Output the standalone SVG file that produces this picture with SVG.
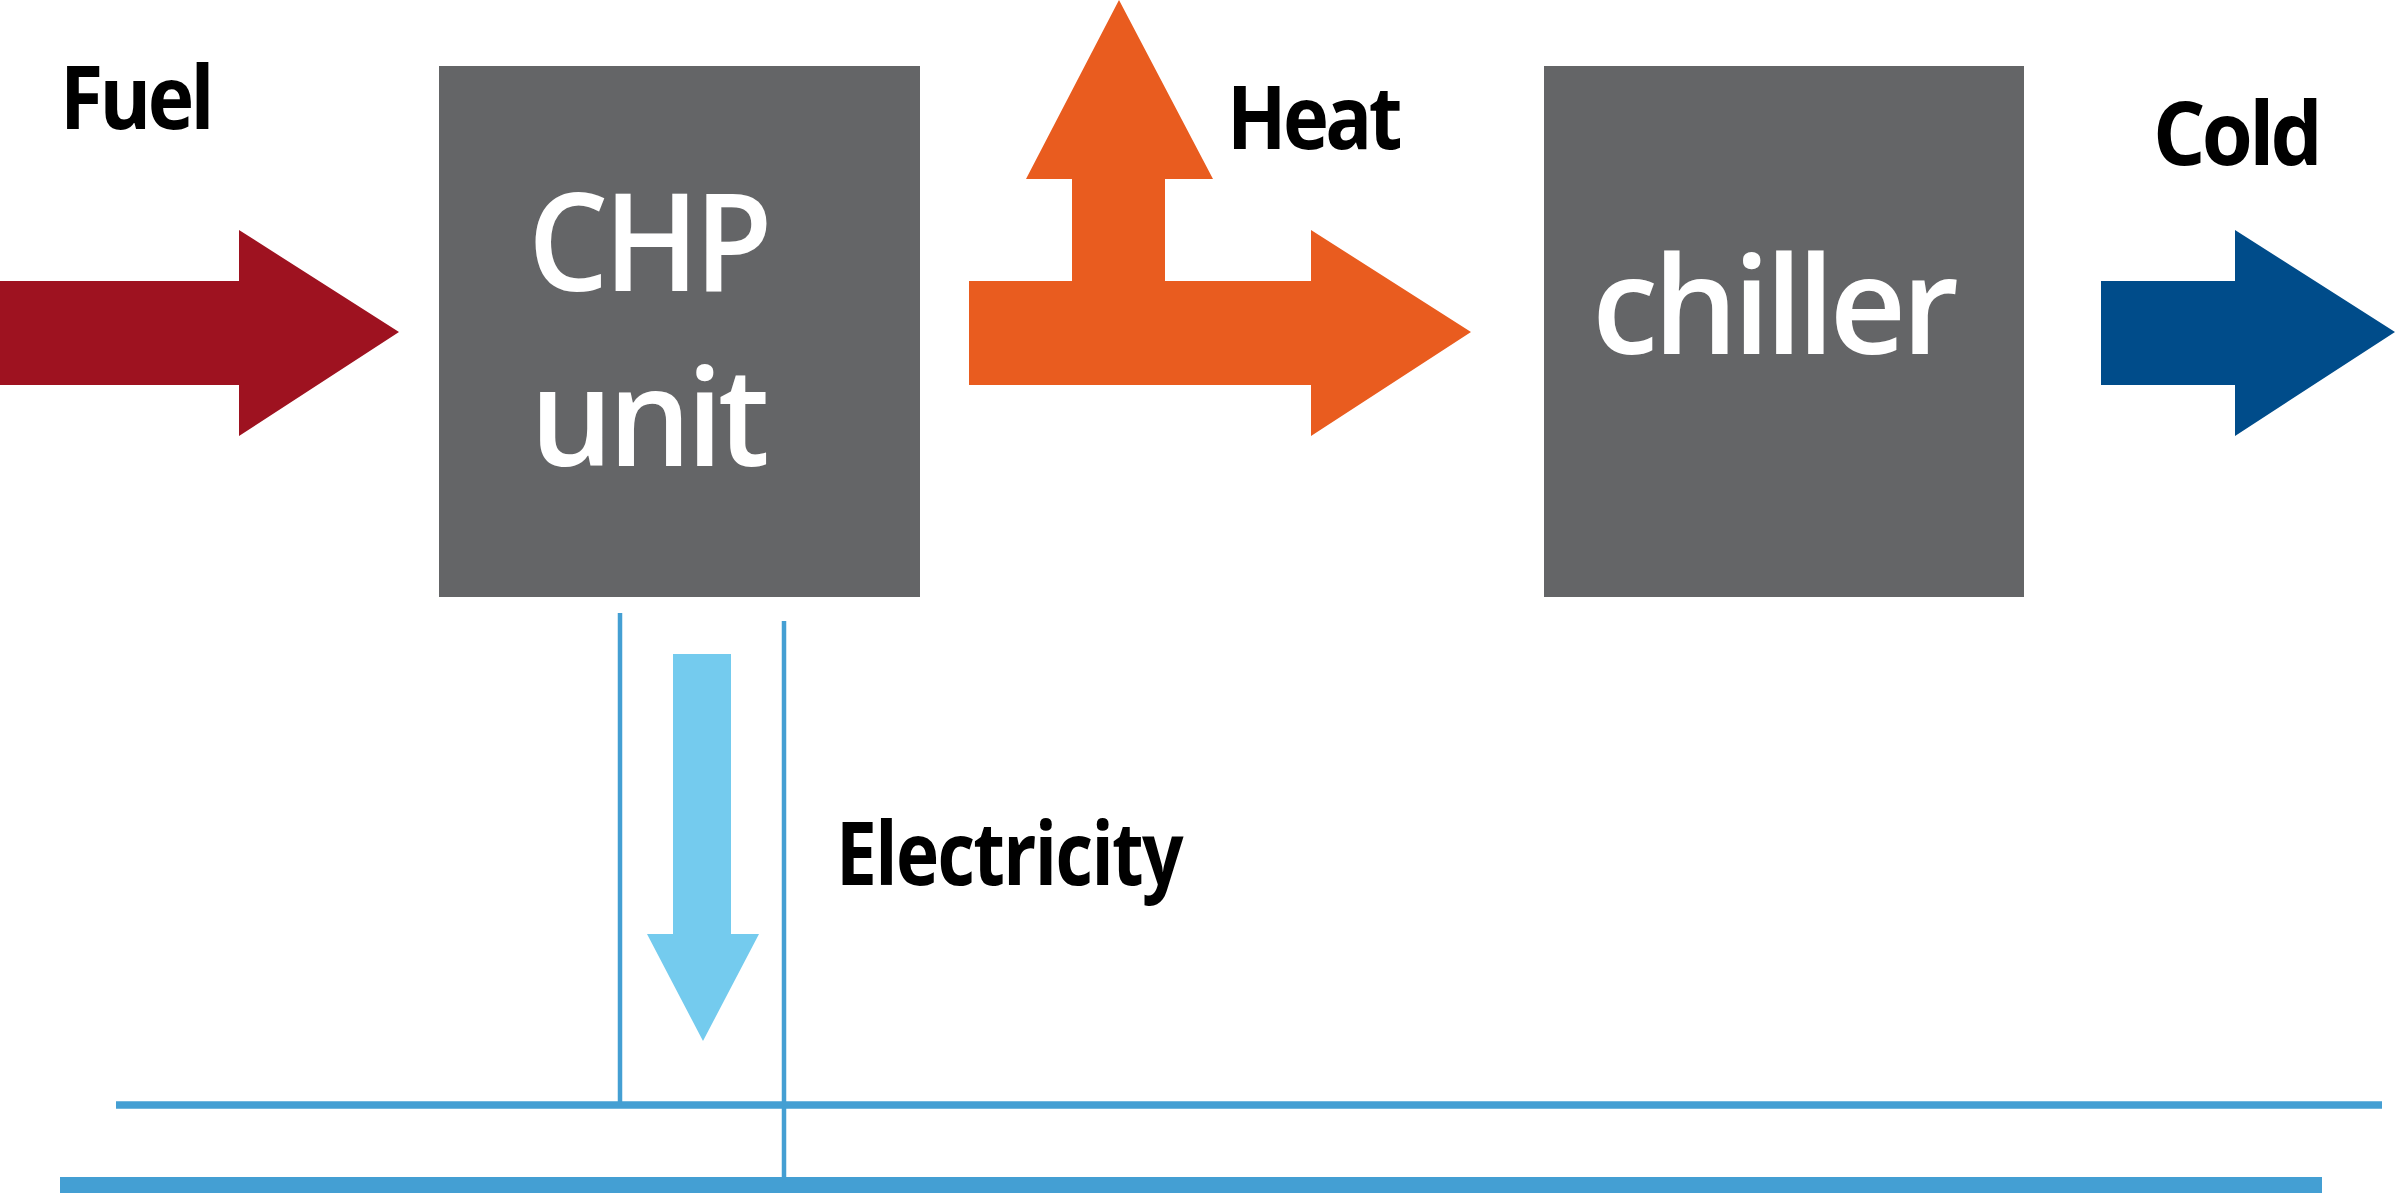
<svg xmlns="http://www.w3.org/2000/svg" width="2398" height="1193" viewBox="0 0 2398 1193">
<style>
.box{fill:#646567}
.lbl{font-family:"Open Sans","Liberation Sans",sans-serif;font-weight:700;font-size:88px;letter-spacing:-4px;fill:#000}
.in{font-family:"Open Sans","Liberation Sans",sans-serif;font-weight:600;font-size:136px;letter-spacing:-5px;fill:#fff}
.wire{stroke:#449FD3;fill:none}
</style>
<rect width="2398" height="1193" fill="#fff"/>
<g id="connectors">
<polygon id="fuel-arrow" points="0,281 239,281 239,230 399,332 239,436 239,385 0,385" fill="#9E1220"/>
<polygon id="heat-arrow" points="969,281 1072,281 1072,179 1026,179 1119,0 1213,179 1165,179 1165,281 1311,281 1311,230 1471,332 1311,436 1311,385 969,385" fill="#E95C1F"/>
<polygon id="cold-arrow" points="2101,281 2235,281 2235,230 2395,332 2235,436 2235,385 2101,385" fill="#004C8A"/>
<polygon id="elec-arrow" points="673,654 731,654 731,934 759,934 703,1041 647,934 673,934" fill="#74CBEE"/>
<line class="wire" x1="620" y1="613" x2="620" y2="1105" stroke-width="4.5"/>
<line class="wire" x1="784" y1="621" x2="784" y2="1180" stroke-width="4.5"/>
<line class="wire" x1="116" y1="1105" x2="2382" y2="1105" stroke-width="7.5"/>
<rect x="60" y="1177" width="2262" height="16" fill="#449FD3"/>
</g>
<g id="fuel-label"><text class="lbl" x="60" y="129" textLength="151" lengthAdjust="spacingAndGlyphs">Fuel</text></g>
<g id="heat-label"><text class="lbl" x="1227" y="149" textLength="172" lengthAdjust="spacingAndGlyphs">Heat</text></g>
<g id="cold-label"><text class="lbl" x="2153" y="165" textLength="166" lengthAdjust="spacingAndGlyphs">Cold</text></g>
<g id="electricity-label"><text class="lbl" x="836" y="885" textLength="346" lengthAdjust="spacingAndGlyphs" style="letter-spacing:-2px">Electricity</text></g>
<g id="chp-unit">
<rect class="box" x="439" y="66" width="481" height="531"/>
<text class="in" x="528" y="291" textLength="240" lengthAdjust="spacingAndGlyphs">CHP</text>
<text class="in" x="530" y="466" textLength="235" lengthAdjust="spacingAndGlyphs">unit</text>
</g>
<g id="chiller">
<rect class="box" x="1544" y="66" width="480" height="531"/>
<text class="in" x="1592" y="354" textLength="362" lengthAdjust="spacingAndGlyphs">chiller</text>
</g>
</svg>
